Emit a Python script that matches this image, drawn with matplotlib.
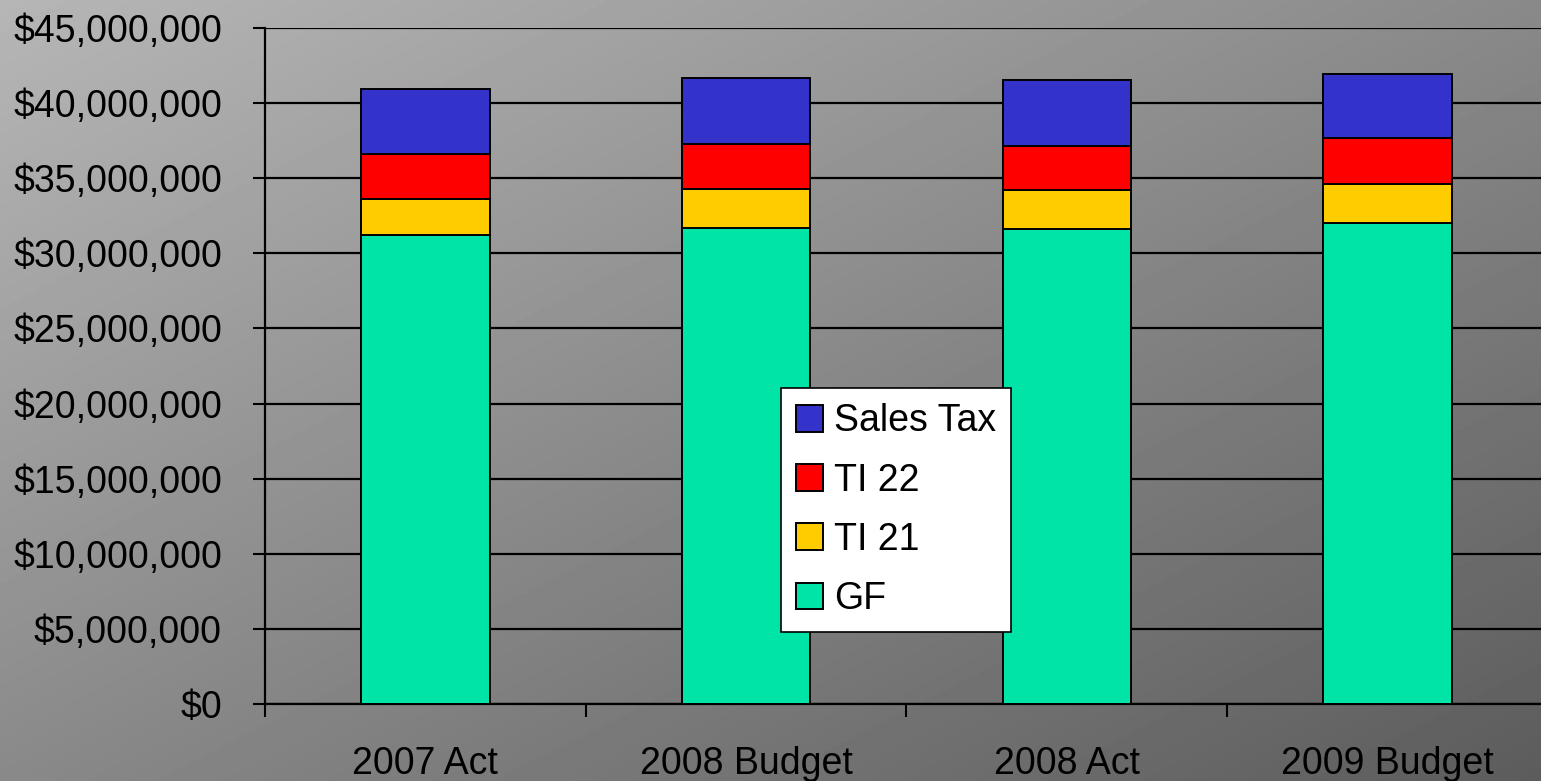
import numpy as np
import matplotlib
matplotlib.use('Agg')
import matplotlib.pyplot as plt
from matplotlib.ticker import FuncFormatter, MultipleLocator

# data (dollars, stacked from the bottom)
categories = ['2007 Act', '2008 Budget', '2008 Act', '2009 Budget']
gf = [31.2e6, 31.7e6, 31.6e6, 32.0e6]
ti21 = [2.45e6, 2.6e6, 2.6e6, 2.6e6]
ti22 = [2.95e6, 2.95e6, 2.95e6, 3.1e6]
sales_tax = [4.35e6, 4.4e6, 4.4e6, 4.25e6]

series = [('GF', gf, '#00E4A8'),
          ('TI 21', ti21, '#FFCC00'),
          ('TI 22', ti22, '#FF0000'),
          ('Sales Tax', sales_tax, '#3333CC')]

plt.rcParams['font.family'] = ['Liberation Sans', 'DejaVu Sans']

fig = plt.figure(figsize=(15.41, 7.81), dpi=100)

# diagonal grey gradient behind everything
bg = fig.add_axes([0, 0, 1, 1], zorder=-10)
gx, gy = np.meshgrid(np.linspace(0, 1, 400), np.linspace(0, 1, 200))
grad = 182 - (gx + gy) / 2 * 90
bg.imshow(grad, cmap='gray', vmin=0, vmax=255, aspect='auto',
          extent=(0, 1, 1, 0))
bg.axis('off')

ax = fig.add_axes([0.172, 0.0986, 0.8325, 0.8655])
ax.patch.set_alpha(0)

x = np.arange(len(categories))
bottom = np.zeros(len(categories))
handles = []
for name, vals, col in series:
    b = ax.bar(x, vals, width=0.4, bottom=bottom, color=col,
               edgecolor='black', linewidth=1.4, label=name, zorder=3)
    handles.append(b)
    bottom += np.array(vals)

ax.set_xlim(-0.5, len(categories) - 0.5)
ax.set_ylim(0, 45e6)
ax.yaxis.set_major_locator(MultipleLocator(5e6))
ax.yaxis.set_major_formatter(FuncFormatter(lambda v, p: '${:,.0f}'.format(v)))
ax.grid(axis='y', color='black', linewidth=1.6, zorder=0)
ax.set_axisbelow(True)

ax.set_xticks(x)
ax.set_xticklabels(categories)
ax.set_xticks(np.arange(len(categories) + 1) - 0.5, minor=True)
ax.tick_params(axis='x', which='major', length=0, pad=30, labelsize=27)
ax.tick_params(axis='x', which='minor', length=9, width=1.5, direction='out')
ax.tick_params(axis='y', length=9, width=1.5, pad=22, labelsize=27)

for s in ['top', 'right']:
    ax.spines[s].set_visible(False)
for s in ['left', 'bottom']:
    ax.spines[s].set_linewidth(1.6)
    ax.spines[s].set_color('black')

leg = ax.legend(handles[::-1], [s[0] for s in series][::-1],
                loc='lower left', bbox_to_anchor=(0.402, 0.1065),
                fontsize=27, frameon=True, fancybox=False, framealpha=1,
                edgecolor='black', handlelength=0.72, handleheight=0.72,
                handletextpad=0.3, labelspacing=0.62, borderpad=0.4,
                borderaxespad=0)
leg.get_frame().set_linewidth(1.2)

fig.savefig('out.png', dpi=100)
